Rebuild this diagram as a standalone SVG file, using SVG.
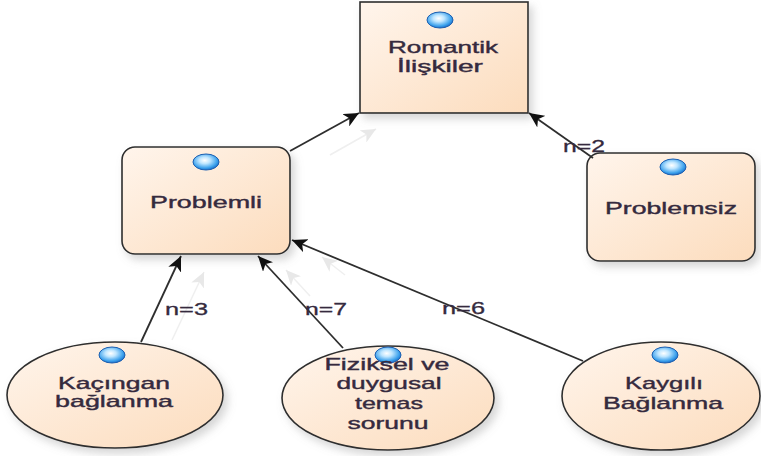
<svg xmlns="http://www.w3.org/2000/svg" width="761" height="456" viewBox="0 0 761 456">
<defs>
<linearGradient id="fill" x1="0" y1="0" x2="1" y2="1">
<stop offset="0" stop-color="#fff5ec"/>
<stop offset="1" stop-color="#fcdcbd"/>
</linearGradient>
<radialGradient id="ball" cx="0.45" cy="0.4" r="0.6">
<stop offset="0" stop-color="#ffffff"/>
<stop offset="0.35" stop-color="#bfe6ff"/>
<stop offset="0.8" stop-color="#3aa0ec"/>
<stop offset="1" stop-color="#1f6fc8"/>
</radialGradient>
<filter id="sh" x="-20%" y="-20%" width="150%" height="150%">
<feDropShadow dx="4" dy="5" stdDeviation="4" flood-color="#888" flood-opacity="0.35"/>
</filter>
<marker id="arr" markerUnits="userSpaceOnUse" markerWidth="16" markerHeight="14" refX="15" refY="7" orient="auto">
<path d="M0,0 L15,7 L0,14 L4,7 z" fill="#111"/>
</marker>
<marker id="ghost" markerUnits="userSpaceOnUse" markerWidth="16" markerHeight="14" refX="15" refY="7" orient="auto">
<path d="M0,0 L15,7 L0,14 L4,7 z" fill="#e8e8e8"/>
</marker>
</defs>
<style>
.node{fill:url(#fill);stroke:#2e2e2e;stroke-width:1.6;filter:url(#sh)}
.icon{fill:url(#ball);stroke:#1d5fb0;stroke-width:1}
.t{font-family:"Liberation Sans",Arial,sans-serif;font-size:17px;fill:#352a3e;stroke:#352a3e;stroke-width:0.4;text-anchor:middle}
.lbl{font-family:"Liberation Sans",Arial,sans-serif;font-size:17px;fill:#352a3e;stroke:#352a3e;stroke-width:0.3}
.c{stroke:#2e2e2e;stroke-width:1.8;fill:none;marker-end:url(#arr)}
.g{stroke:#efefef;stroke-width:1.5;fill:none;marker-end:url(#ghost)}
</style>
<rect width="761" height="456" fill="#ffffff"/>

<g id="ghosts">
<line class="g" x1="172" y1="340" x2="204" y2="272"/>
<line class="g" x1="310" y1="296" x2="286" y2="270"/>
<line class="g" x1="345" y1="275" x2="322" y2="257"/>
<line class="g" x1="330" y1="155" x2="376" y2="129"/>
</g>

<g id="romantik">
<rect class="node" x="360" y="2" width="168" height="111"/>
<ellipse class="icon" cx="440" cy="20" rx="13" ry="8"/>
<text class="t" x="443" y="53" textLength="110" lengthAdjust="spacingAndGlyphs">Romantik</text>
<text class="t" x="440" y="72" textLength="86" lengthAdjust="spacingAndGlyphs">İlişkiler</text>
</g>

<g id="problemli">
<rect class="node" x="122" y="147" width="168" height="107" rx="13"/>
<ellipse class="icon" cx="206" cy="162" rx="13" ry="8"/>
<text class="t" x="206" y="208" textLength="112" lengthAdjust="spacingAndGlyphs">Problemli</text>
</g>

<g id="problemsiz">
<rect class="node" x="587" y="153" width="168" height="108" rx="13"/>
<ellipse class="icon" cx="673" cy="167" rx="13" ry="8"/>
<text class="t" x="671" y="214" textLength="132" lengthAdjust="spacingAndGlyphs">Problemsiz</text>
</g>

<g id="kacingan">
<ellipse class="node" cx="115" cy="395" rx="108" ry="53"/>
<ellipse class="icon" cx="112" cy="355" rx="13" ry="8"/>
<text class="t" x="114" y="389" textLength="112" lengthAdjust="spacingAndGlyphs">Kaçıngan</text>
<text class="t" x="114" y="407" textLength="118" lengthAdjust="spacingAndGlyphs">bağlanma</text>
</g>

<g id="fiziksel">
<ellipse class="node" cx="388" cy="398" rx="106" ry="52"/>
<ellipse class="icon" cx="388" cy="355" rx="13" ry="8"/>
<text class="t" x="387" y="370" textLength="125" lengthAdjust="spacingAndGlyphs">Fiziksel ve</text>
<text class="t" x="389" y="389" textLength="105" lengthAdjust="spacingAndGlyphs">duygusal</text>
<text class="t" x="389" y="409" textLength="68" lengthAdjust="spacingAndGlyphs">temas</text>
<text class="t" x="388" y="429" textLength="81" lengthAdjust="spacingAndGlyphs">sorunu</text>
</g>

<g id="kaygili">
<ellipse class="node" cx="661" cy="396" rx="99" ry="54"/>
<ellipse class="icon" cx="665" cy="355" rx="13" ry="8"/>
<text class="t" x="664" y="389" textLength="78" lengthAdjust="spacingAndGlyphs">Kaygılı</text>
<text class="t" x="663" y="409" textLength="120" lengthAdjust="spacingAndGlyphs">Bağlanma</text>
</g>

<g id="connectors">
<line class="c" x1="290" y1="151" x2="359" y2="113"/>
<line class="c" x1="593" y1="158" x2="529" y2="113"/>
<line class="c" x1="141" y1="342" x2="181" y2="256"/>
<line class="c" x1="343" y1="348" x2="258" y2="256"/>
<line class="c" x1="583" y1="361" x2="292" y2="240"/>
<text class="lbl" x="563" y="152" textLength="42" lengthAdjust="spacingAndGlyphs">n=2</text>
<text class="lbl" x="165" y="315" textLength="43" lengthAdjust="spacingAndGlyphs">n=3</text>
<text class="lbl" x="305" y="315" textLength="42" lengthAdjust="spacingAndGlyphs">n=7</text>
<text class="lbl" x="442" y="314" textLength="43" lengthAdjust="spacingAndGlyphs">n=6</text>
</g>
</svg>
